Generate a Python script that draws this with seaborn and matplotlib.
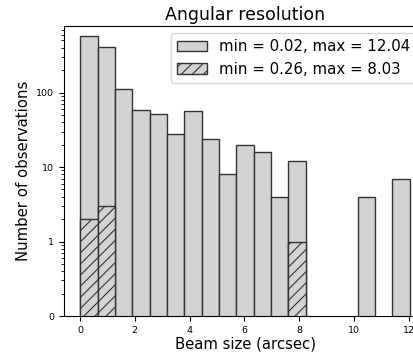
import numpy as np
import pandas as pd
import matplotlib
matplotlib.use("Agg")
import matplotlib.pyplot as plt
import seaborn as sns

# ---- data ----
all_min, all_max = 0.02, 12.04
n_bins = 19
all_counts = [582, 414, 112, 59, 52, 28, 56, 24, 8, 20, 16, 4, 12, 0, 0, 0, 4, 0, 7]
sub_counts = [2, 3, 0, 0, 0, 0, 0, 0, 0, 0, 0, 0, 1, 0, 0, 0, 0, 0, 0]
labels = ["min = 0.02, max = 12.04", "min = 0.26, max = 8.03"]
ytick_vals = [0.1, 1, 10, 100]
ytick_labels = ["0", "1", "10", "100"]
xtick_vals = [0, 2, 4, 6, 8, 10, 12]

edges = np.linspace(all_min, all_max, n_bins + 1)
centers = (edges[:-1] + edges[1:]) / 2
df = pd.DataFrame({"beam": centers, "all": all_counts, "sub": sub_counts})

plt.rcParams['hatch.linewidth'] = 0.8
fig = plt.figure(figsize=(4.13, 3.53), dpi=100)
ax = fig.add_axes([64 / 413, 37 / 353, 362.3 / 413, 290.3 / 353])

sns.histplot(data=df, x="beam", weights="all", bins=list(edges), ax=ax,
             facecolor='lightgrey', edgecolor='#333333', linewidth=1.0,
             alpha=1, label=labels[0])
sns.histplot(data=df[df["sub"] > 0], x="beam", weights="sub", bins=list(edges), ax=ax,
             facecolor='lightgrey', edgecolor='#333333', linewidth=1.0,
             alpha=1, hatch='///', label=labels[1])

ax.set_yscale('log')
ax.set_xlim(all_min - 0.601, all_max + 0.601)
ax.set_ylim(0.1, 790)
ax.set_yticks(ytick_vals)
ax.set_yticklabels(ytick_labels)
ax.set_xticks(xtick_vals)
ax.tick_params(axis='both', labelsize=6.8)
ax.set_xlabel("Beam size (arcsec)", fontsize=10.7, labelpad=1)
ax.set_ylabel("Number of observations", fontsize=10.7)
ax.set_title("Angular resolution", fontsize=12.5, pad=4)
ax.legend(loc='upper right', fontsize=10.8, bbox_to_anchor=(1 - 2.5 / 362, 1))

fig.savefig("out.png", dpi=100)
